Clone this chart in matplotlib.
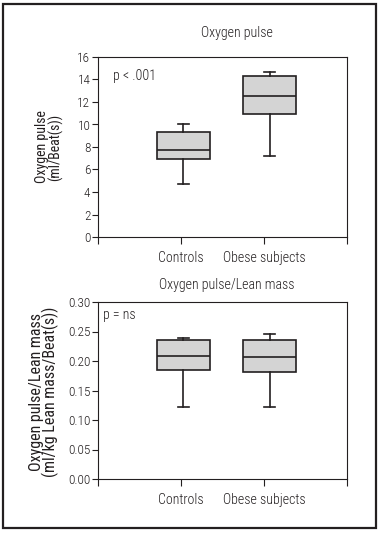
import matplotlib
matplotlib.use("Agg")
import matplotlib.pyplot as plt
from matplotlib.patches import Rectangle
from matplotlib import font_manager

_names = {f.name for f in font_manager.fontManager.ttflist}
_cands = ['Liberation Sans Narrow', 'Roboto Condensed', 'Open Sans Condensed',
          'Arial Narrow', 'Liberation Sans']
_chosen = [c for c in _cands if c in _names]
NARROW = bool(_chosen) and _chosen[0] != 'Liberation Sans'
plt.rcParams['font.family'] = (_chosen[:1] or []) + ['DejaVu Sans']
plt.rcParams['font.weight'] = 'light'
S = 1.0 if NARROW else 0.82  # size scale when only regular width is available

# ---- data ----
groups = ["Controls", "Obese subjects"]

# Oxygen pulse (ml/Beat(s))
op_whislo = [4.7, 7.2]
op_q1 = [6.9, 10.9]
op_med = [7.7, 12.5]
op_q3 = [9.3, 14.35]
op_whishi = [10.0, 14.7]
op_yticks = [0, 2, 4, 6, 8, 10, 12, 14, 16]

# Oxygen pulse / Lean mass (ml/kg Lean mass/Beat(s))
lm_whislo = [0.122, 0.122]
lm_q1 = [0.185, 0.182]
lm_med = [0.209, 0.207]
lm_q3 = [0.235, 0.235]
lm_whishi = [0.239, 0.246]
lm_yticks = [0.00, 0.05, 0.10, 0.15, 0.20, 0.25, 0.30]

INK = '#231f20'
FILL = '#d4d4d4'

fig = plt.figure(figsize=(3.8, 5.35), dpi=100)

# outer frame
fig.patches.append(Rectangle((3 / 380, 1 - 528 / 535), 373 / 380, 524 / 535,
                             transform=fig.transFigure, fill=False,
                             edgecolor=INK, linewidth=1.6))

ax1 = fig.add_axes([98 / 380, 1 - 237 / 535, 249 / 380, 180 / 535])
ax2 = fig.add_axes([98 / 380, 1 - 479 / 535, 249 / 380, 177 / 535])


def draw(ax, lo, q1, med, q3, hi, yticks, fmt):
    stats = []
    for i, g in enumerate(groups):
        stats.append(dict(med=med[i], q1=q1[i], q3=q3[i],
                          whislo=lo[i], whishi=hi[i], label=g))
    ax.bxp(stats, positions=[1.03, 2.07], widths=0.64, showfliers=False,
           patch_artist=True, capwidths=0.13,
           boxprops=dict(facecolor=FILL, edgecolor=INK, linewidth=1.2),
           medianprops=dict(color=INK, linewidth=1.2),
           whiskerprops=dict(color=INK, linewidth=1.2),
           capprops=dict(color=INK, linewidth=1.2))
    ax.set_xlim(0, 3)
    ax.set_ylim(yticks[0], yticks[-1])
    ax.set_xticks([0, 1, 2, 3])
    ax.set_xticklabels(['', groups[0], groups[1], ''])
    ax.set_yticks(yticks)
    ax.set_yticklabels([fmt.format(v) for v in yticks])
    for s in ax.spines.values():
        s.set_linewidth(0.8)
        s.set_color(INK)
    ax.tick_params(axis='y', direction='out', length=4, width=0.8,
                   pad=1.5, labelsize=9.5 * S, colors=INK)
    ax.tick_params(axis='x', direction='out', length=5, width=0.8,
                   pad=5, labelsize=10 * S, colors=INK)


draw(ax1, op_whislo, op_q1, op_med, op_q3, op_whishi, op_yticks, "{:d}")
draw(ax2, lm_whislo, lm_q1, lm_med, lm_q3, lm_whishi, lm_yticks, "{:.2f}")

ax1.set_ylabel("Oxygen pulse\n(ml/Beat(s))", fontsize=10 * S, color=INK,
               linespacing=0.9)
ax1.yaxis.set_label_coords(-0.14, 0.5)
ax2.set_ylabel("Oxygen pulse/Lean mass\n(ml/kg Lean mass/Beat(s))",
               fontsize=11.5 * S, color=INK, linespacing=0.85)
ax2.yaxis.set_label_coords(-0.155, 0.49)

ax1.text(0.06, 0.894, "p < .001", transform=ax1.transAxes, fontsize=10 * S,
         color=INK, ha='left', va='center')
ax2.text(0.02, 0.927, "p = ns", transform=ax2.transAxes, fontsize=10 * S,
         color=INK, ha='left', va='center')

fig.text(237 / 380, 1 - 33 / 535, "Oxygen pulse", fontsize=10 * S, color=INK,
         ha='center', va='center')
fig.text(227 / 380, 1 - 285 / 535, "Oxygen pulse/Lean mass", fontsize=10 * S,
         color=INK, ha='center', va='center')

fig.savefig("out.png", dpi=100)
